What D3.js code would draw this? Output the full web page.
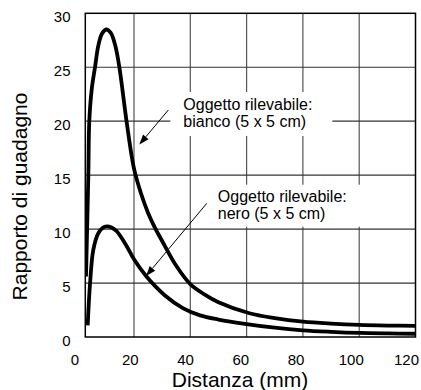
<!DOCTYPE html>
<html>
<head>
<meta charset="utf-8">
<script src="https://cdn.jsdelivr.net/npm/d3@7"></script>
<style>
  html, body { margin: 0; padding: 0; background: #fff; }
  svg { display: block; }
  text { font-family: "Liberation Sans", Arial, Helvetica, sans-serif; fill: #000; }
</style>
</head>
<body>
<svg id="chart" width="421" height="390"></svg>
<script>
// ---- data ----
const distBianco = [2.95, 3.77, 4.12, 5.0, 6.15, 7.32, 8.6, 10.1, 11.7, 13.26, 14.8, 17.35, 20.0, 22.5, 25, 27.5, 30, 35, 40, 45, 50, 61, 70, 80, 90, 100, 110, 120];
const gainBianco = [5.6, 14.9, 20.0, 23.0, 25.0, 27.0, 28.1, 28.5, 28.2, 27.1, 25.0, 20.0, 15.6, 13.3, 11.5, 10.1, 8.9, 6.6, 4.9, 3.95, 3.22, 2.2, 1.75, 1.42, 1.24, 1.12, 1.06, 1.03];

const distNero = [3.55, 4.37, 5.54, 7.29, 8.8, 10.4, 12.0, 13.86, 17.0, 20.0, 24.28, 31.0, 37.5, 43.5, 50, 60, 70, 80, 90, 100, 110, 120];
const gainNero = [1.07, 4.9, 8.07, 9.6, 10.1, 10.25, 10.15, 9.8, 8.6, 7.2, 5.65, 3.85, 2.65, 2.0, 1.62, 1.2, 0.86, 0.62, 0.48, 0.38, 0.33, 0.3];

const xTicks = [0, 20, 40, 60, 80, 100, 120];
const yTicks = [0, 5, 10, 15, 20, 25, 30];

const xTitle = "Distanza (mm)";
const yTitle = "Rapporto di guadagno";

const annBianco = ["Oggetto rilevabile:", "bianco (5 x 5 cm)"];
const annNero = ["Oggetto rilevabile:", "nero (5 x 5 cm)"];

// ---- layout ----
const svg = d3.select("#chart");
const L = 85.3, R = 415.5, T = 13.3, B = 337;
const x = d3.scaleLinear().domain([2.7, 120]).range([L, R]);
const y = d3.scaleLinear().domain([0, 30]).range([B, T]);
// tick labels in the source are evenly spaced but slightly offset from the grid
const xLab = d3.scaleLinear().domain([0, 120]).range([75, 406.5]);

// grid
const g = svg.append("g");
g.selectAll("line.vg").data(xTicks.filter(v => x(v) > L + 1 && x(v) < R - 1)).join("line")
  .attr("x1", d => x(d)).attr("x2", d => x(d)).attr("y1", T).attr("y2", B)
  .attr("stroke", "#555").attr("stroke-width", 1.2);
g.selectAll("line.hg").data(yTicks.filter(v => y(v) < B - 1 && y(v) > T + 1)).join("line")
  .attr("x1", L).attr("x2", R).attr("y1", d => y(d)).attr("y2", d => y(d))
  .attr("stroke", "#333").attr("stroke-width", 1.2);

// annotation text (with white boxes)
function annotate(lines, tx, ty, pad) {
  const grp = svg.append("g");
  const rect = grp.append("rect").attr("fill", "#fff");
  const t = grp.append("text").attr("font-size", 16);
  lines.forEach((s, i) => {
    t.append("tspan").attr("x", x(tx)).attr("y", y(ty) + i * 17).text(s);
  });
  const bb = t.node().getBBox();
  rect.attr("x", bb.x - pad[0]).attr("y", bb.y - pad[1])
      .attr("width", bb.width + pad[0] + pad[2]).attr("height", bb.height + pad[1] + pad[3]);
}
annotate(annBianco, 37.54, 21.04, [13, 4, 20, 6]);
annotate(annNero, 49.77, 12.54, [9, 3, 18, 5]);

// frame
svg.append("rect").attr("x", L).attr("y", T).attr("width", R - L).attr("height", B - T)
  .attr("fill", "none").attr("stroke", "#000").attr("stroke-width", 1.5);

// curves
const line = d3.line().x(d => x(d[0])).y(d => y(d[1])).curve(d3.curveCatmullRom.alpha(0.5));
svg.append("clipPath").attr("id", "clip").append("rect")
  .attr("x", L).attr("y", T - 5).attr("width", R - L).attr("height", B - T + 5);
[[distBianco, gainBianco], [distNero, gainNero]].forEach(([xs, ys]) => {
  svg.append("path").datum(xs.map((v, i) => [v, ys[i]]))
    .attr("d", line).attr("fill", "none").attr("stroke", "#000")
    .attr("stroke-width", 3.8).attr("stroke-linejoin", "round").attr("stroke-linecap", "butt")
    .attr("clip-path", "url(#clip)");
});

// arrows
function arrow(x0, y0, x1, y1) {
  const px0 = x(x0), py0 = y(y0), px1 = x(x1), py1 = y(y1);
  const ang = Math.atan2(py1 - py0, px1 - px0);
  const len = 10, hw = 3.6;
  const bx = px1 - len * Math.cos(ang), by = py1 - len * Math.sin(ang);
  svg.append("line").attr("x1", px0).attr("y1", py0).attr("x2", bx).attr("y2", by)
    .attr("stroke", "#000").attr("stroke-width", 1);
  const pts = [[px1, py1],
    [bx + hw * Math.sin(ang), by - hw * Math.cos(ang)],
    [bx - hw * Math.sin(ang), by + hw * Math.cos(ang)]];
  svg.append("polygon").attr("points", pts.map(p => p.join(",")).join(" ")).attr("fill", "#000");
}
arrow(32.21, 21.04, 21.9, 17.84);
arrow(45.86, 12.39, 24.28, 5.65);

// tick labels
svg.selectAll("text.xt").data(xTicks).join("text")
  .attr("x", d => xLab(d)).attr("y", 365).attr("text-anchor", "middle")
  .attr("font-size", 15).text(d => d);
svg.selectAll("text.yt").data(yTicks).join("text")
  .attr("x", 70.5).attr("y", d => y(d) + 9).attr("text-anchor", "end")
  .attr("font-size", 15).text(d => d);

// axis titles
svg.append("text").attr("x", 240).attr("y", 387).attr("text-anchor", "middle")
  .attr("font-size", 21).text(xTitle);
svg.append("text").attr("transform", "translate(27,196.5) rotate(-90)")
  .attr("text-anchor", "middle").attr("font-size", 21).text(yTitle);
</script>
</body>
</html>
